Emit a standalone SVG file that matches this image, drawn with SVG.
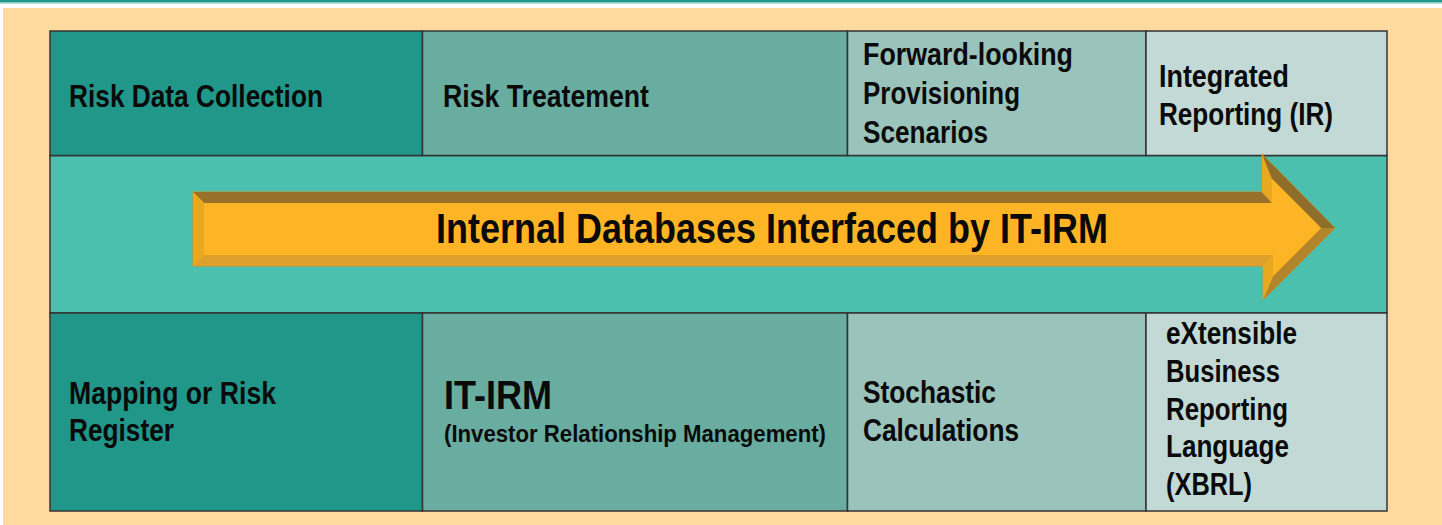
<svg xmlns="http://www.w3.org/2000/svg" width="1442" height="525" viewBox="0 0 1442 525">
  <defs>
    <style>
      .lbl { font-family: "Liberation Sans", Arial, sans-serif; font-weight: bold; fill: #0a0a0a; font-size: 31px; }
      .big { font-size: 42px; }
      .mid { font-size: 40px; }
      .sub { font-size: 24px; }
      .cell { stroke: #333333; stroke-width: 1.5; }
      .c1 { fill: #21978a; }
      .c2 { fill: #68ada0; }
      .c3 { fill: #9ac3bc; }
      .c4 { fill: #c3d9d5; }
    </style>
  </defs>
  <rect x="0" y="0" width="1442" height="525" fill="#ffffff"/>
  <rect x="3" y="8" width="1439" height="517" fill="#feda9e"/>
  <rect x="0" y="0" width="1442" height="2.5" fill="#22998a"/>
  <rect x="0" y="2.5" width="1442" height="1" fill="#7cc8bc"/>

  <g id="band">
    <rect x="50" y="155.5" width="1337" height="157.5" fill="#4cc0ae" class="cell"/>
  </g>

  <g id="n-risk-data-collection">
    <rect x="50" y="31" width="372.5" height="124.5" class="cell c1"/>
    <text class="lbl" x="69" y="106.5" textLength="254" lengthAdjust="spacingAndGlyphs">Risk Data Collection</text>
  </g>
  <g id="n-risk-treatement">
    <rect x="422.5" y="31" width="425" height="124.5" class="cell c2"/>
    <text class="lbl" x="443" y="106.5" textLength="206" lengthAdjust="spacingAndGlyphs">Risk Treatement</text>
  </g>
  <g id="n-forward-looking">
    <rect x="847.5" y="31" width="298.5" height="124.5" class="cell c3"/>
    <text class="lbl" x="863" y="64.5" textLength="210" lengthAdjust="spacingAndGlyphs">Forward-looking</text>
    <text class="lbl" x="863" y="104" textLength="157" lengthAdjust="spacingAndGlyphs">Provisioning</text>
    <text class="lbl" x="863" y="142.5" textLength="125" lengthAdjust="spacingAndGlyphs">Scenarios</text>
  </g>
  <g id="n-integrated-reporting">
    <rect x="1146" y="31" width="241" height="124.5" class="cell c4"/>
    <text class="lbl" x="1159" y="86.5" textLength="130" lengthAdjust="spacingAndGlyphs">Integrated</text>
    <text class="lbl" x="1159" y="125" textLength="174" lengthAdjust="spacingAndGlyphs">Reporting (IR)</text>
  </g>

  <g id="n-mapping">
    <rect x="50" y="313" width="372.5" height="198" class="cell c1"/>
    <text class="lbl" x="69" y="403.5" textLength="207" lengthAdjust="spacingAndGlyphs">Mapping or Risk</text>
    <text class="lbl" x="69" y="441" textLength="105" lengthAdjust="spacingAndGlyphs">Register</text>
  </g>
  <g id="n-it-irm">
    <rect x="422.5" y="313" width="425" height="198" class="cell c2"/>
    <text class="lbl mid" x="444" y="409" textLength="108" lengthAdjust="spacingAndGlyphs">IT-IRM</text>
    <text class="lbl sub" x="444" y="441.5" textLength="382" lengthAdjust="spacingAndGlyphs">(Investor Relationship Management)</text>
  </g>
  <g id="n-stochastic">
    <rect x="847.5" y="313" width="298.5" height="198" class="cell c3"/>
    <text class="lbl" x="863" y="402.5" textLength="133" lengthAdjust="spacingAndGlyphs">Stochastic</text>
    <text class="lbl" x="863" y="441" textLength="156" lengthAdjust="spacingAndGlyphs">Calculations</text>
  </g>
  <g id="n-xbrl">
    <rect x="1146" y="313" width="241" height="198" class="cell c4"/>
    <text class="lbl" x="1166" y="344" textLength="131" lengthAdjust="spacingAndGlyphs">eXtensible</text>
    <text class="lbl" x="1166" y="382" textLength="114" lengthAdjust="spacingAndGlyphs">Business</text>
    <text class="lbl" x="1166" y="420" textLength="122" lengthAdjust="spacingAndGlyphs">Reporting</text>
    <text class="lbl" x="1166" y="457" textLength="123" lengthAdjust="spacingAndGlyphs">Language</text>
    <text class="lbl" x="1166" y="495" textLength="86" lengthAdjust="spacingAndGlyphs">(XBRL)</text>
  </g>

  <g id="arrow">
    <polygon points="193,192 1262,192 1262,154 1335,228 1263,300 1263,266 193,266" fill="#fdb525" stroke="#c99023" stroke-width="1"/>
    <polygon points="193,192 1262,192 1272,203 204,203" fill="#98702a"/>
    <polygon points="193,192 204,203 204,255 193,266" fill="#e8a820"/>
    <polygon points="193,266 1263,266 1273,255 204,255" fill="#dea02a"/>
    <polygon points="1262,154 1272,179 1272,203 1262,192" fill="#e8a820"/>
    <polygon points="1262,154 1335,228 1321,228 1272,179" fill="#8e6e2a"/>
    <polygon points="1335,228 1263,300 1273,276 1321,228" fill="#b3852a"/>
    <polygon points="1263,300 1263,266 1273,255 1273,276" fill="#e8a820"/>
    <polygon points="204,203 1272,203 1272,179 1321,228 1273,276 1273,255 204,255" fill="#fdb525"/>
    <text class="lbl big" x="436" y="243" textLength="672" lengthAdjust="spacingAndGlyphs">Internal Databases Interfaced by IT-IRM</text>
  </g>
</svg>
